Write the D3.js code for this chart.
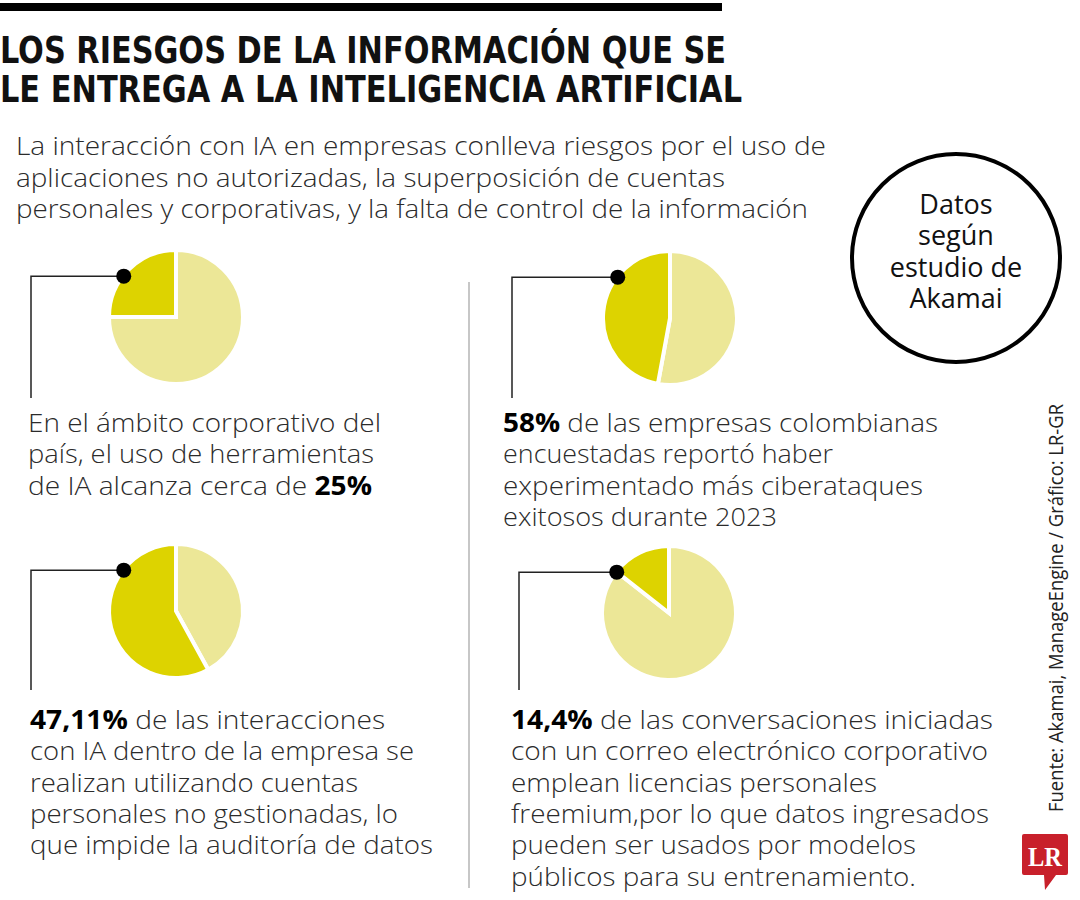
<!DOCTYPE html>
<html>
<head>
<meta charset="utf-8">
<script src="https://cdn.jsdelivr.net/npm/d3@7"></script>
<style>
  body { margin: 0; background: #fff; }
  svg { display: block; }
  .title { font-family: "Liberation Sans Narrow", "DejaVu Sans Condensed", "Roboto", sans-serif; font-weight: bold; font-size: 38px; fill: #111; }
  .light { font-family: "Open Sans", "Lato", "Noto Sans", sans-serif; font-weight: 300; font-size: 26px; fill: #2b2b2b; }
  .badge { font-family: "Open Sans", "Noto Sans", sans-serif; font-size: 27px; fill: #111; }
  .source { font-family: "Open Sans", "Noto Sans", sans-serif; font-size: 20px; fill: #222; }
</style>
</head>
<body>
<svg id="chart" width="1080" height="900"></svg>
<script>
// ---- data ----
var titleLines = ["LOS RIESGOS DE LA INFORMACIÓN QUE SE", "LE ENTREGA A LA INTELIGENCIA ARTIFICIAL"];
var subtitleLines = [
  "La interacción con IA en empresas conlleva riesgos por el uso de",
  "aplicaciones no autorizadas, la superposición de cuentas",
  "personales y corporativas, y la falta de control de la información"
];
// share of the dark slice in each pie, as drawn (top-left, top-right, bottom-left, bottom-right)
var pieValues = [25, 47.11, 58, 14.4];
// texts under each pie, **bold** marks the highlighted figure
var pieTexts = [
  ["En el ámbito corporativo del", "país, el uso de herramientas", "de IA alcanza cerca de **25%**"],
  ["**58%** de las empresas colombianas", "encuestadas reportó haber", "experimentado más ciberataques", "exitosos durante 2023"],
  ["**47,11%** de las interacciones", "con IA dentro de la empresa se", "realizan utilizando cuentas", "personales no gestionadas, lo", "que impide la auditoría de datos"],
  ["**14,4%** de las conversaciones iniciadas", "con un correo electrónico corporativo", "emplean licencias personales", "freemium,por lo que datos ingresados", "pueden ser usados por modelos", "públicos para su entrenamiento."]
];
var badgeLines = ["Datos", "según", "estudio de", "Akamai"];
var sourceText = "Fuente: Akamai, ManageEngine / Gráfico: LR-GR";

// ---- layout ----
var svg = d3.select("#chart");
var dark = "#ddd300", light = "#ece797";
var panels = [
  {cx: 176, cy: 317, lx: 31,  ly: 398, tx: 28,  ty: 432, widths: [353, 346, 344]},
  {cx: 670, cy: 318, lx: 512, ly: 398, tx: 503, ty: 432, widths: [435, 330, 420, 274]},
  {cx: 176, cy: 611, lx: 31,  ly: 690, tx: 30,  ty: 729, widths: [355, 384, 328, 368, 403]},
  {cx: 669, cy: 613, lx: 519, ly: 690, tx: 511, ty: 729, widths: [482, 477, 366, 478, 405, 405]}
];
var radius = 67;
var lineH = 31.3;

// top rule
svg.append("rect").attr("x", 0).attr("y", 3).attr("width", 722).attr("height", 8).attr("fill", "#000");

// title
var titleW = [726, 742];
svg.selectAll(".title").data(titleLines).join("text")
  .attr("class", "title")
  .attr("x", 0).attr("y", function(d, i) { return 63 + i * 39; })
  .attr("textLength", function(d, i) { return titleW[i]; })
  .attr("lengthAdjust", "spacingAndGlyphs")
  .text(function(d) { return d; });

// subtitle
var subW = [810, 709, 792];
svg.selectAll(".sub").data(subtitleLines).join("text")
  .attr("class", "light sub")
  .attr("x", 16).attr("y", function(d, i) { return 155 + i * 31.5; })
  .attr("textLength", function(d, i) { return subW[i]; })
  .attr("lengthAdjust", "spacingAndGlyphs")
  .text(function(d) { return d; });

// divider
svg.append("line").attr("x1", 469).attr("x2", 469).attr("y1", 282).attr("y2", 888)
  .attr("stroke", "#b5b5b5").attr("stroke-width", 1.5);

// pies
var pie = d3.pie().sort(null).value(function(d) { return d.v; });
var arc = d3.arc().innerRadius(0).outerRadius(radius);
var dotAngle = -52 * Math.PI / 180;

panels.forEach(function(p, i) {
  var slices = pie([{k: "rest", v: 100 - pieValues[i]}, {k: "share", v: pieValues[i]}]);
  var g = svg.append("g").attr("transform", "translate(" + p.cx + "," + p.cy + ")");
  g.selectAll("path").data(slices).join("path")
    .attr("d", arc)
    .attr("fill", function(d) { return d.data.k === "share" ? dark : light; })
    .attr("stroke", "#fff").attr("stroke-width", 4).attr("stroke-linejoin", "miter");

  // leader line and dot
  var dx = p.cx + radius * Math.sin(dotAngle) * 0.99;
  var dy = p.cy - radius * Math.cos(dotAngle) * 0.99;
  svg.append("path")
    .attr("d", d3.line()([[dx, dy], [p.lx, dy], [p.lx, p.ly]]))
    .attr("fill", "none").attr("stroke", "#222").attr("stroke-width", 1.5);
  svg.append("circle").attr("cx", dx).attr("cy", dy).attr("r", 7.5).attr("fill", "#000");

  // text block
  pieTexts[i].forEach(function(line, j) {
    var t = svg.append("text").attr("class", "light")
      .attr("x", p.tx).attr("y", p.ty + j * lineH)
      .attr("textLength", p.widths[j]).attr("lengthAdjust", "spacingAndGlyphs");
    line.split("**").forEach(function(seg, k) {
      if (!seg) return;
      t.append("tspan").text(seg)
        .style("font-weight", k % 2 === 1 ? "bold" : null)
        .style("fill", k % 2 === 1 ? "#000" : null);
    });
  });
});

// badge
svg.append("circle").attr("cx", 956).attr("cy", 258).attr("r", 104)
  .attr("fill", "#fff").attr("stroke", "#000").attr("stroke-width", 4);
var badgeText = svg.append("text").attr("class", "badge").attr("text-anchor", "middle");
badgeText.selectAll("tspan").data(badgeLines).join("tspan")
  .attr("x", 956).attr("y", function(d, i) { return 214 + i * 31.3; })
  .text(function(d) { return d; });

// source, rotated
svg.append("text").attr("class", "source")
  .attr("transform", "translate(1063,812) rotate(-90)")
  .attr("textLength", 408).attr("lengthAdjust", "spacingAndGlyphs")
  .text(sourceText);

// LR logo
var logo = svg.append("g");
logo.append("path")
  .attr("d", "M1024,834 H1066 Q1068,834 1068,836 V873 Q1068,875 1066,875 H1056 L1045,890 L1044,875 H1024 Q1022,875 1022,873 V836 Q1022,834 1024,834 Z")
  .attr("fill", "#c8202b");
logo.append("text").attr("x", 1045).attr("y", 866).attr("text-anchor", "middle")
  .style("font-family", "'Liberation Serif', 'DejaVu Serif', serif").style("font-weight", "bold")
  .style("font-size", "27px").style("fill", "#fff")
  .attr("textLength", 34).attr("lengthAdjust", "spacingAndGlyphs")
  .text("LR");
</script>
</body>
</html>
